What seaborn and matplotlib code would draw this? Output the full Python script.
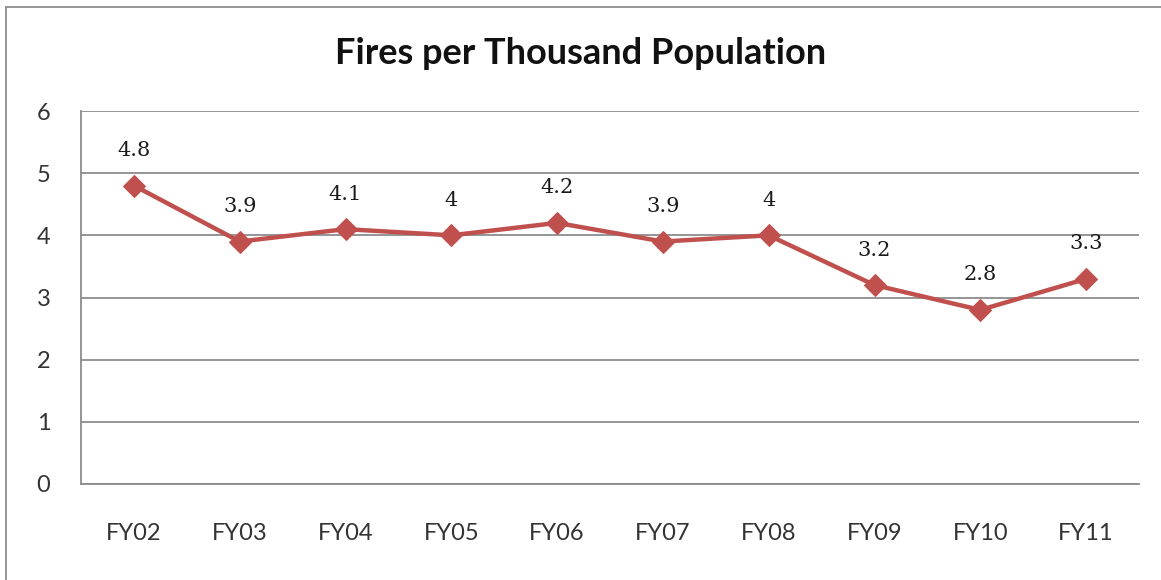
import matplotlib
matplotlib.use("Agg")
import matplotlib.pyplot as plt
from matplotlib.patches import Rectangle
import seaborn as sns
import pandas as pd

# Fire incidence by fiscal year
years = ["FY02", "FY03", "FY04", "FY05", "FY06", "FY07", "FY08", "FY09", "FY10", "FY11"]
fires_per_thousand = [4.8, 3.9, 4.1, 4.0, 4.2, 3.9, 4.0, 3.2, 2.8, 3.3]
value_labels = ["4.8", "3.9", "4.1", "4", "4.2", "3.9", "4", "3.2", "2.8", "3.3"]
y_ticks = [0, 1, 2, 3, 4, 5, 6]

df = pd.DataFrame({"year": years, "rate": fires_per_thousand})

sns.set_theme(style="white")
plt.rcParams["font.family"] = ["Lato", "DejaVu Sans"]

W, H = 1161, 580
fig = plt.figure(figsize=(W / 100, H / 100), dpi=100)
ax = fig.add_axes([81 / W, 1 - 484 / H, (1139 - 81) / W, (484 - 111) / H])

line_color = "#C0504D"
grid_color = "#8C8C8C"

sns.lineplot(data=df, x="year", y="rate", ax=ax, color=line_color,
             linewidth=3.2, marker="D", markersize=11,
             markeredgecolor=line_color, markerfacecolor=line_color,
             sort=False, zorder=3)

for i, (v, lab) in enumerate(zip(fires_per_thousand, value_labels)):
    ax.annotate(lab, xy=(i, v), xytext=(0, 35), textcoords="offset pixels",
                ha="center", va="center", fontsize=15,
                family=["DejaVu Serif"], color="#1a1a1a", zorder=4)

ax.set_xlim(-0.5, len(years) - 0.5)
ax.set_ylim(0, 6)
ax.set_yticks(y_ticks)
ax.set_yticklabels([str(t) for t in y_ticks])
ax.set_xlabel("")
ax.set_ylabel("")

ax.yaxis.grid(True, color=grid_color, linewidth=1.3)
ax.xaxis.grid(False)
ax.set_axisbelow(True)

for side in ["top", "right"]:
    ax.spines[side].set_visible(False)
for side in ["left", "bottom"]:
    ax.spines[side].set_visible(True)
    ax.spines[side].set_color(grid_color)
    ax.spines[side].set_linewidth(1.3)

ax.tick_params(axis="x", length=0, pad=28, labelsize=17, labelcolor="#333333")
ax.tick_params(axis="y", length=0, pad=22, labelsize=17, labelcolor="#333333")

fig.text(0.5, 1 - 53 / H, "Fires per Thousand Population", ha="center", va="center",
         fontsize=26, fontweight="bold", color="#111111")

# Outer chart frame
fig.patches.append(Rectangle((6 / W, -0.02), 1.1, 1 - 7 / H + 0.02,
                             transform=fig.transFigure, fill=False,
                             edgecolor="#8C8C8C", linewidth=1.3))

fig.savefig("out.png", dpi=100, facecolor="white")
